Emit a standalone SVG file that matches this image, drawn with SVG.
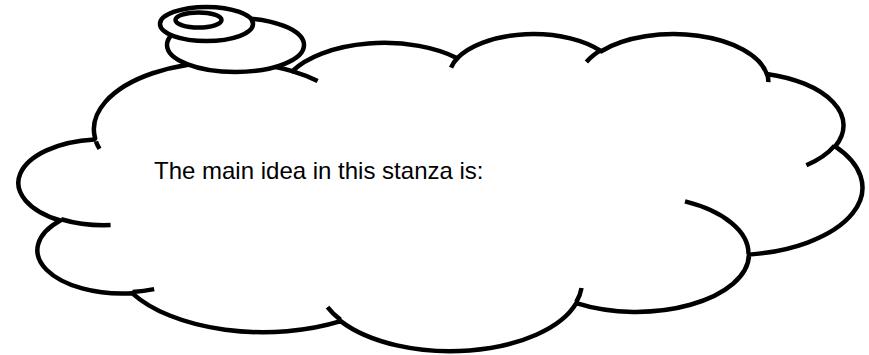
<svg xmlns="http://www.w3.org/2000/svg" width="869" height="355" viewBox="0 0 869 355">
  <style>
    .ln { fill: none; stroke: #000; stroke-width: 4.5; stroke-linejoin: round; vector-effect: non-scaling-stroke; }
    .shape { fill: #fff; stroke: #000; stroke-width: 4.5; vector-effect: non-scaling-stroke; }
    .bub { fill: #fff; stroke: #000; stroke-width: 4.5; }
    .txt { font-family: "Liberation Sans", Arial, sans-serif; font-size: 24px; fill: #000; }
  </style>
  <rect width="869" height="355" fill="#fff"/>
  <g id="cloud">
    <g transform="translate(19,33) scale(0.019514,0.007338)">
      <path class="shape" d="M3900 14370 A6753 9190 0 0 1 14005 5202 A5333 7267 0 0 1 22459 3432 A4365 5945 0 0 1 29837 2481 A4857 6595 0 0 1 38321 5577 A5333 7273 0 0 1 41822 15461 A6775 9220 0 0 1 37407 30203 A5785 7867 0 0 1 28559 36814 A6752 9215 0 0 1 16484 39266 A7720 10543 0 0 1 5809 35474 A4360 5918 0 0 1 2116 25555 A4345 5945 0 0 1 3866 14511 Z"/>
      <path class="ln" d="M4693 26177 A4345 5945 0 0 1 2160 25380 M6928 34899 A4360 5918 0 0 1 5820 35280 M16478 39090 A6752 9215 0 0 1 15809 37348 M28827 34751 A6752 9215 0 0 1 28560 36660 M34129 22954 A5785 7867 0 0 1 37381 30090 M41798 15354 A5333 7273 0 0 1 40350 18030 M38324 5426 A4857 6595 0 0 1 38400 6690 M29078 3952 A4857 6595 0 0 1 29820 2340 M22141 4720 A4365 5945 0 0 1 22500 3331 M14000 5192 A6753 9190 0 0 1 15303 6544 M4127 15789 A6753 9190 0 0 1 3943 14780"/>
    </g>
    <text class="txt" x="154" y="179">The main idea in this stanza is:</text>
  </g>
  <g id="bubbles">
    <ellipse id="bubble-large" class="bub" cx="235.5" cy="45" rx="68.5" ry="27"/>
    <ellipse id="bubble-medium" class="bub" cx="206.5" cy="24" rx="46.5" ry="17"/>
    <ellipse id="bubble-small" class="bub" cx="198.5" cy="20" rx="23" ry="7.5"/>
  </g>
</svg>
